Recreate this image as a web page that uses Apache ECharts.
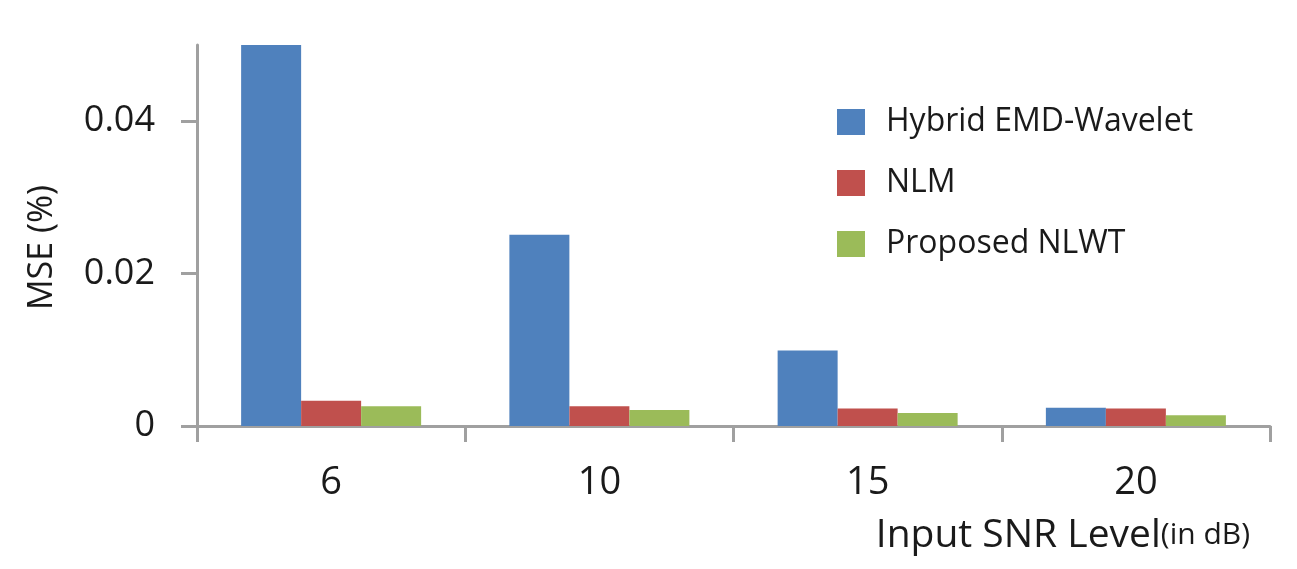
<!DOCTYPE html>
<html>
<head>
<meta charset="utf-8">
<script src="https://cdn.jsdelivr.net/npm/echarts@6/dist/echarts.min.js"></script>
<style>
html,body{margin:0;padding:0;background:#fff;}
#c{width:1297px;height:569px;}
</style>
</head>
<body>
<div id="c"></div>
<script>
const categories = ['6', '10', '15', '20'];
const seriesNames = ['Hybrid EMD-Wavelet', 'NLM', 'Proposed NLWT'];
const hybrid = [0.05, 0.0251, 0.0099, 0.0024];
const nlm = [0.0033, 0.0026, 0.0023, 0.0023];
const proposed = [0.0026, 0.0021, 0.0017, 0.0014];
const yTicks = [0, 0.02, 0.04];

const colors = ['#4F81BD', '#C0504D', '#9BBB59'];
const font = 'Open Sans';
const axisColor = '#A0A0A0';
const textColor = '#1a1a1a';

const chart = echarts.init(document.getElementById('c'), null, {renderer: 'canvas'});
const data = [hybrid, nlm, proposed];
chart.setOption({
  animation: false,
  backgroundColor: '#fff',
  color: colors,
  grid: {left: 197, right: 27, top: 45, bottom: 143, containLabel: false},
  legend: {
    orient: 'vertical',
    left: 837, top: 106,
    padding: 0,
    itemWidth: 28, itemHeight: 26,
    itemGap: 29,
    icon: 'rect',
    textStyle: {fontFamily: font, fontSize: 32, color: textColor, padding: [0, 0, 0, 16]},
    data: seriesNames
  },
  xAxis: {
    type: 'category',
    data: categories,
    axisLine: {lineStyle: {color: axisColor, width: 3}},
    axisTick: {show: true, length: 16, inside: false, lineStyle: {color: axisColor, width: 3}},
    axisLabel: {fontFamily: font, fontSize: 38, color: textColor, margin: 38},
    name: 'Input SNR Level{s|(in dB)}',
    nameLocation: 'end',
    nameGap: -20,
    nameTextStyle: {
      fontFamily: font, fontSize: 39, color: textColor,
      align: 'right', verticalAlign: 'top', padding: [90, 0, 0, 0],
      rich: {s: {fontFamily: font, fontSize: 30, color: textColor}}
    }
  },
  yAxis: {
    type: 'value',
    min: 0, max: 0.05, interval: 0.02,
    splitLine: {show: false},
    axisLine: {show: true, lineStyle: {color: axisColor, width: 3}},
    axisTick: {show: true, length: 16, customValues: yTicks, lineStyle: {color: axisColor, width: 3}},
    axisLabel: {fontFamily: font, fontSize: 36, color: textColor, margin: 42, customValues: yTicks,
      formatter: v => (v === 0 ? '0' : v.toFixed(2))},
    name: 'MSE (%)',
    nameLocation: 'middle',
    nameGap: 138,
    nameRotate: 90,
    nameTextStyle: {fontFamily: font, fontSize: 34, color: textColor, padding: [0, 24, 0, 0]}
  },
  series: seriesNames.map((n, i) => ({
    name: n,
    type: 'bar',
    data: data[i],
    barWidth: 60,
    barGap: '0%',
    itemStyle: {color: colors[i]}
  }))
});
</script>
</body>
</html>
